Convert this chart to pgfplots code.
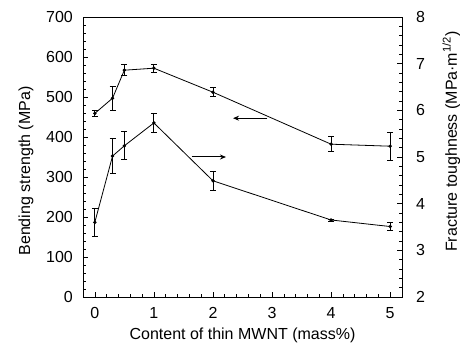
\documentclass[border=0pt]{standalone}
\usepackage{fontspec}
\setmainfont{Liberation Sans}
\usepackage{pgfplots}
\pgfplotsset{compat=1.18}
\usetikzlibrary{arrows.meta}
\newcommand{\tfont}{\fontsize{16}{19}\selectfont}
\newcommand{\lfont}{\fontsize{16}{19}\selectfont}
\pgfplotsset{
  common/.style={
    at={(83pt,50pt)}, anchor=south west, scale only axis,
    width=319pt, height=280pt, xmin=-0.2, xmax=5.2,
    tick label style={font=\tfont},
    label style={font=\lfont},
    /pgf/number format/assume math mode=true,
    tick align=inside, major tick length=5pt, minor tick length=3pt,
    tick style={black, line width=0.6pt},
    axis line style={line width=0.8pt},
  },
  ser/.style={black, line width=0.8pt, mark=*, mark size=1.3pt,
    error bars/.cd, y dir=both, y explicit,
    error bar style={line width=0.8pt},
    error mark options={rotate=90, mark size=3pt, line width=0.8pt}},
}
\begin{document}
\begin{tikzpicture}
\path[use as bounding box] (0,0) rectangle (460pt,347pt);
\begin{axis}[common,
  ymin=0, ymax=700,
  xtick={0,1,2,3,4,5}, minor x tick num=4,
  ytick={0,100,...,700}, minor y tick num=4,
  xtick pos=bottom, ytick pos=left,
  yticklabel style={anchor=east, inner sep=0pt, xshift=-10pt},
  xticklabel style={anchor=base, yshift=-22pt},
  xlabel={Content of thin MWNT (mass\%)},
  ylabel={Bending strength (MPa)},
  xlabel style={at={(axis description cs:0.5,0)}, anchor=base, yshift=-43pt},
  ylabel style={at={(axis description cs:-0.166,0.45)}, anchor=base},
]
\addplot[ser] coordinates {
  (0,459) +- (0,8)
  (0.3,497) +- (0,30)
  (0.5,567) +- (0,14)
  (1,572) +- (0,10)
  (2,512) +- (0,11)
  (4,382) +- (0,19)
  (5,377) +- (0,35)
};
\draw[-{Stealth[length=6pt,width=5pt]}, line width=1pt] (axis cs:2.92,447) -- (axis cs:2.34,447);
\draw[-{Stealth[length=6pt,width=5pt]}, line width=1pt] (axis cs:1.64,350) -- (axis cs:2.22,350);
\end{axis}
\begin{axis}[common,
  ymin=2, ymax=8,
  axis x line=none,
  axis y line*=right,
  ytick={2,3,...,8}, minor y tick num=4,
  ytick pos=right,
  yticklabel style={anchor=west, inner sep=0pt, xshift=14pt},
  ylabel={Fracture toughness (MPa·m\textsuperscript{1/2})},
  ylabel style={at={(axis description cs:1.172,0.555)}, anchor=base},
]
\addplot[ser] coordinates {
  (0,3.60) +- (0,0.30)
  (0.3,5.02) +- (0,0.37)
  (0.5,5.24) +- (0,0.30)
  (1,5.73) +- (0,0.21)
  (2,4.49) +- (0,0.20)
  (4,3.65) +- (0,0.02)
  (5,3.51) +- (0,0.08)
};
\end{axis}
\end{tikzpicture}
\end{document}
